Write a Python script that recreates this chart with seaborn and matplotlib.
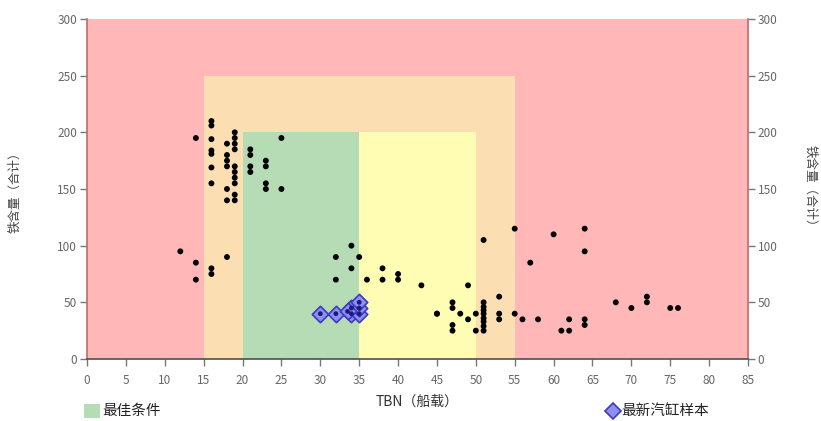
import matplotlib
matplotlib.use("Agg")
import matplotlib.pyplot as plt
import matplotlib.patches as mpatches
from matplotlib.lines import Line2D
import seaborn as sns
import pandas as pd

# Background zones: (x0, x1, y_top, colour)
zone_names = ["危险", "警告", "最佳", "良好"]
zone_x0 = [0, 15, 20, 35]
zone_x1 = [85, 55, 35, 50]
zone_ytop = [300, 250, 200, 200]
zone_colors = ["#ffb7b7", "#fbdfb2", "#b6dcb5", "#fffdb3"]

# Historical samples (TBN, iron content)
tbn = [12, 14, 14, 14, 16, 16, 16, 16, 16, 16, 16, 16, 16,
       18, 18, 18, 18, 18, 18, 18,
       19, 19, 19, 19, 19, 19, 19, 19, 19, 19,
       21, 21, 21, 21, 23, 23, 23, 23, 25, 25,
       32, 32, 34, 34, 35, 36, 38, 38, 40, 40, 43,
       45, 45, 47, 47, 47, 47, 48, 49, 49, 50, 50,
       51, 51, 51, 51, 51, 51, 51, 51, 51,
       53, 53, 53, 55, 55, 56, 57, 58, 60, 61, 62, 62,
       64, 64, 64, 64, 68, 70, 72, 72, 75, 76]
iron = [95, 85, 70, 195, 210, 206, 194, 184, 181, 169, 155, 80, 75,
        190, 180, 175, 170, 150, 140, 90,
        200, 195, 190, 185, 170, 165, 160, 155, 145, 140,
        185, 180, 170, 165, 175, 170, 155, 150, 195, 150,
        90, 70, 100, 80, 90, 70, 80, 70, 75, 70, 65,
        40, 40, 50, 45, 30, 25, 40, 65, 35, 40, 25,
        105, 50, 46, 43, 40, 36, 33, 29, 25,
        55, 40, 35, 115, 40, 35, 85, 35, 110, 25, 35, 25,
        115, 95, 35, 30, 50, 45, 55, 50, 45, 45]

# Latest cylinder samples
new_tbn = [30, 32, 34, 34, 35, 35, 35, 33.5]
new_iron = [40, 40, 40, 45, 40, 45, 50, 42]

x_ticks = list(range(0, 90, 5))
y_ticks = list(range(0, 350, 50))

sns.set_theme(style="white")
plt.rcParams["font.family"] = ["Noto Sans CJK SC", "DejaVu Sans"]

fig = plt.figure(figsize=(8.21, 4.21), dpi=100)
ax = fig.add_axes([87 / 821, 62 / 421, 661 / 821, 340 / 421])

for x0, x1, yt, c in zip(zone_x0, zone_x1, zone_ytop, zone_colors):
    ax.add_patch(mpatches.Rectangle((x0, 0), x1 - x0, yt, facecolor=c,
                                    edgecolor="none", zorder=0))

hist = pd.DataFrame({"TBN": tbn, "Fe": iron})
new = pd.DataFrame({"TBN": new_tbn, "Fe": new_iron})

sns.scatterplot(data=new, x="TBN", y="Fe", ax=ax, marker="D", s=70,
                color="#8f8ff0", edgecolor="#3a3ac0", linewidth=1.2, zorder=3)
sns.scatterplot(data=new, x="TBN", y="Fe", ax=ax, s=12, color="#1a1a80",
                edgecolor="none", zorder=4)
sns.scatterplot(data=hist, x="TBN", y="Fe", ax=ax, s=18, color="black",
                edgecolor="none", zorder=5)

ax.set_xlim(0, 85)
ax.set_ylim(0, 300)
ax.set_xticks(x_ticks)
ax.set_yticks(y_ticks)
ax.tick_params(axis="both", labelsize=8.5, labelcolor="#666666", color="#777777",
               length=5, width=1, direction="out", pad=2)
ax.tick_params(axis="x", pad=6)
ax.tick_params(axis="y", left=True, right=True, labelright=True)
ax.tick_params(axis="x", bottom=True)

ax.spines["top"].set_visible(False)
ax.spines["left"].set_color("#c07070")
ax.spines["right"].set_color("#c07070")
ax.spines["bottom"].set_color("#555555")

ax.set_xlabel("TBN（船载）", fontsize=10, color="#333333", labelpad=5)
ax.set_ylabel("铁含量（合计）", fontsize=9, color="#444444", labelpad=26)
fig.text(0.987, (62 + 170) / 421, "铁含量（合计）", rotation=-90, fontsize=9,
         color="#444444", ha="center", va="center")

# Legend entries under the axes
fig.patches.append(mpatches.Rectangle((84 / 821, 3 / 421), 16 / 821, 14 / 421,
                                      facecolor="#b6dcb5", edgecolor="none",
                                      transform=fig.transFigure, figure=fig))
fig.text(102 / 821, 10 / 421, "最佳条件", fontsize=10.5, color="#222222",
         va="center", ha="left")
fig.lines.append(Line2D([613 / 821], [10 / 421], marker="D", markersize=8,
                        markerfacecolor="#8f8ff0", markeredgecolor="#3a3ac0",
                        markeredgewidth=1.2, transform=fig.transFigure))
fig.text(621 / 821, 10 / 421, "最新汽缸样本", fontsize=10.5, color="#222222",
         va="center", ha="left")

fig.savefig("out.png", dpi=100)
